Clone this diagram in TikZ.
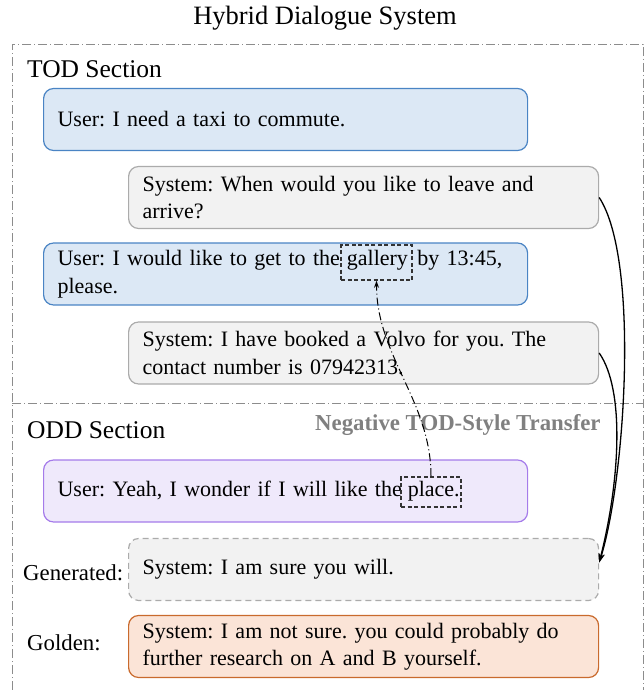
\documentclass[tikz,border=0pt]{standalone}
\usepackage{fontspec}
\setmainfont{Liberation Serif}
\usetikzlibrary{arrows.meta}
\frenchspacing

\definecolor{usrfill}{HTML}{DCE8F5}
\definecolor{usrline}{HTML}{4A84C4}
\definecolor{sysfill}{HTML}{F2F2F2}
\definecolor{sysline}{HTML}{ABABAB}
\definecolor{oddfill}{HTML}{EFE9FB}
\definecolor{oddline}{HTML}{A57BEA}
\definecolor{goldfill}{HTML}{FBE4D7}
\definecolor{goldline}{HTML}{C96A2D}
\definecolor{framegray}{HTML}{8C8C8C}

\begin{document}
\begin{tikzpicture}[x=1pt,y=-1pt,
  box/.style={rectangle,rounded corners=10pt,align=left,anchor=west,minimum height=62pt,
    inner xsep=14pt,line width=1.2pt,font=\fontsize{22}{27.5}\selectfont},
  usr/.style={box,draw=usrline,fill=usrfill,text width=456pt},
  sys/.style={box,draw=sysline,fill=sysfill,text width=442pt},
  oddusr/.style={box,draw=oddline,fill=oddfill,text width=456pt},
  gen/.style={sys,dash pattern=on 6pt off 4pt},
  gold/.style={box,draw=goldline,fill=goldfill,text width=442pt},
  hl/.style={draw=black!80,line width=1.6pt,dash pattern=on 4pt off 2.5pt,inner sep=0pt},
  lab/.style={anchor=base west,inner sep=0pt,font=\fontsize{22.8}{27.5}\selectfont},
  sect/.style={anchor=base west,inner sep=0pt,font=\fontsize{25.5}{30}\selectfont},
  frame/.style={draw=framegray,line width=0.9pt,dash pattern=on 9pt off 3pt on 1pt off 3pt},
  flow/.style={-{Stealth[length=9pt,width=6pt]},line width=1.3pt},
  transfer/.style={-{Stealth[length=7pt,width=5pt]},line width=1pt,dash pattern=on 8pt off 3pt on 1pt off 3pt}]
\useasboundingbox (0,0) rectangle (644,690);
\draw[frame] (12,690) |- (643,44) -- (643,690);
\draw[frame] (12,403) -- (643,403);
\node[anchor=base,inner sep=0pt,font=\fontsize{26.5}{30}\selectfont] (title) at (325,25) {Hybrid Dialogue System};
\node[sect] (tod) at (27,78) {TOD Section};
\node[sect] (odd) at (27,438) {ODD Section};
\node[usr] (usr1) at (43,119.5) {User: I need a taxi to commute.};
\node[sys] (sys1) at (128,197.5) {System: When would you like to leave and\\arrive?};
\node[usr] (usr2) at (43,274) {User: I would like to get to the\hspace{7pt}gallery\hspace{2pt} by 13:45,\\please.};
\node[sys] (sys2) at (128,353) {System: I have booked a Volvo for you. The\\contact number is 07942313.};
\node[oddusr] (usr3) at (43,491) {User: Yeah, I wonder if I will like the\hspace{6pt}place.};
\node[gen] (gensys) at (128,569.5) {System: I am sure you will.};
\node[gold] (goldsys) at (128,646.5) {System: I am not sure. you could probably do\\further research on A and B yourself.};
\node[lab] (genlab) at (23,580) {Generated:};
\node[lab] (goldlab) at (27,650) {Golden:};
\node[lab,text=black!50,font=\fontsize{22.8}{27.5}\selectfont\bfseries] (neg) at (315,430) {Negative TOD-Style Transfer};
\node[hl,minimum width=71pt,minimum height=35pt] (gal) at (376.5,262.5) {};
\node[hl,minimum width=60pt,minimum height=30pt] (plc) at (431,492) {};
\coordinate (gentip) at ([yshift=7pt]gensys.east);
\draw[transfer] (plc.north) .. controls +(0,-75) and +(0,75) .. (gal.south);
\draw[flow] (sys1.east) .. controls (640,260) and (625,480) .. (gentip);
\draw[flow] (sys2.east) .. controls (625,390) and (620,480) .. (gentip);
\end{tikzpicture}
\end{document}
